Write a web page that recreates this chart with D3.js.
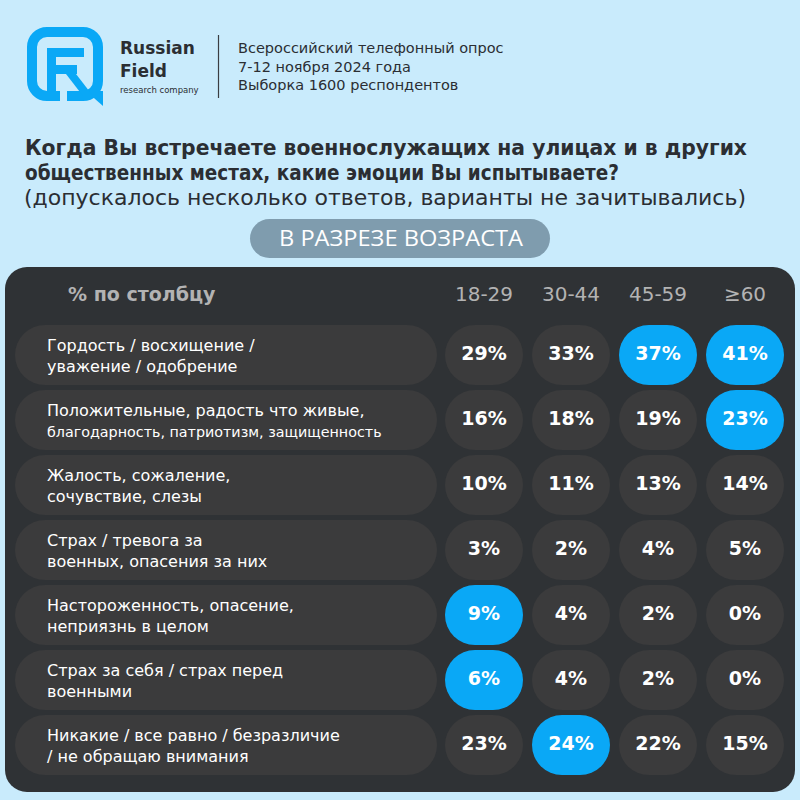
<!DOCTYPE html>
<html><head><meta charset="utf-8">
<script src="https://cdn.jsdelivr.net/npm/d3@7"></script>
<style>
html,body{margin:0;padding:0;background:#c9ebfc;}
svg{display:block;}
</style></head>
<body>
<svg id="chart" width="800" height="800"></svg>
<script>
// ---------- DATA ----------
const categories = [
  ["Гордость / восхищение /", "уважение / одобрение"],
  ["Положительные, радость что живые,", "благодарность, патриотизм, защищенность"],
  ["Жалость, сожаление,", "сочувствие, слезы"],
  ["Страх / тревога за", "военных, опасения за них"],
  ["Настороженность, опасение,", "неприязнь в целом"],
  ["Страх за себя / страх перед", "военными"],
  ["Никакие / все равно / безразличие", "/ не обращаю внимания"]
];
const ageGroups = ["18-29", "30-44", "45-59", "≥60"];
const values18_29 = [29, 16, 10, 3, 9, 6, 23];
const values30_44 = [33, 18, 11, 2, 4, 4, 24];
const values45_59 = [37, 19, 13, 4, 2, 2, 22];
const values60plus = [41, 23, 14, 5, 0, 0, 15];
// highlighted (blue) cells per column
const highlight18_29 = [0, 0, 0, 0, 1, 1, 0];
const highlight30_44 = [0, 0, 0, 0, 0, 0, 1];
const highlight45_59 = [1, 0, 0, 0, 0, 0, 0];
const highlight60plus = [1, 1, 0, 0, 0, 0, 0];
const headerLines = ["Всероссийский телефонный опрос", "7-12 ноября 2024 года", "Выборка 1600 респондентов"];
const titleLines = ["Когда Вы встречаете военнослужащих на улицах и в других", "общественных местах, какие эмоции Вы испытываете?"];
const subtitle = "(допускалось несколько ответов, варианты не зачитывались)";
const badge = "В РАЗРЕЗЕ ВОЗРАСТА";
const columnHeader = "% по столбцу";

const columns = [values18_29, values30_44, values45_59, values60plus];
const highlights = [highlight18_29, highlight30_44, highlight45_59, highlight60plus];

// ---------- DRAW ----------
const svg = d3.select("#chart");
const BG = "#c9ebfc", BLUE = "#0aa8f6", DARK = "#2b2e33", CELL = "#3b3b3c";

svg.append("rect").attr("width", 800).attr("height", 800).attr("fill", BG);

// logo icon
const logo = svg.append("g");
logo.append("rect").attr("x", 32).attr("y", 32).attr("width", 66).attr("height", 64)
  .attr("rx", 15).attr("fill", "none").attr("stroke", BLUE).attr("stroke-width", 10);
logo.append("path").attr("d", "M86 91 L103 91 L103 106 Z").attr("fill", BLUE);
logo.append("rect").attr("x", 47).attr("y", 48).attr("width", 37).attr("height", 9).attr("fill", BLUE);
logo.append("rect").attr("x", 47).attr("y", 48).attr("width", 9).attr("height", 45).attr("fill", BLUE);
logo.append("rect").attr("x", 47).attr("y", 65).attr("width", 30).attr("height", 9).attr("fill", BLUE);
logo.append("path").attr("d", "M66 74 L76 74 L93 96 L83 96 Z").attr("fill", BLUE);
logo.append("rect").attr("x", 60).attr("y", 90).attr("width", 7).attr("height", 12).attr("fill", BG);

svg.append("text").attr("x", 120).attr("y", 54).text("Russian")
  .attr("font-family", "DejaVu Sans").attr("font-weight", "bold").attr("font-size", 17).attr("fill", DARK);
svg.append("text").attr("x", 120).attr("y", 77).text("Field")
  .attr("font-family", "DejaVu Sans").attr("font-weight", "bold").attr("font-size", 17).attr("fill", DARK);
svg.append("text").attr("x", 120).attr("y", 93).text("research company")
  .attr("font-family", "DejaVu Sans").attr("font-size", 8.5).attr("fill", DARK);
svg.append("line").attr("x1", 218.5).attr("x2", 218.5).attr("y1", 35).attr("y2", 98)
  .attr("stroke", "#3a3d42").attr("stroke-width", 1.2);

svg.selectAll("text.hdr").data(headerLines).join("text").attr("class", "hdr")
  .attr("x", 238).attr("y", (d, i) => 53 + i * 18.5).text(d => d)
  .attr("font-family", "DejaVu Sans").attr("font-size", 14.5).attr("fill", DARK);

// title
const titleWidths = [722, 594];
svg.selectAll("text.title").data(titleLines).join("text").attr("class", "title")
  .attr("x", 25).attr("y", (d, i) => 155 + i * 25).text(d => d)
  .attr("textLength", (d, i) => titleWidths[i]).attr("lengthAdjust", "spacingAndGlyphs")
  .attr("font-family", "DejaVu Sans").attr("font-weight", "bold").attr("font-size", 21).attr("fill", DARK);
svg.append("text").attr("x", 24).attr("y", 205).text(subtitle)
  .attr("textLength", 722).attr("lengthAdjust", "spacingAndGlyphs")
  .attr("font-family", "DejaVu Sans").attr("font-size", 21).attr("fill", DARK);

// badge
svg.append("rect").attr("x", 250).attr("y", 219).attr("width", 300).attr("height", 39).attr("rx", 19.5).attr("fill", "#7f9cae");
svg.append("text").attr("x", 279).attr("y", 246).text(badge)
  .attr("textLength", 244).attr("lengthAdjust", "spacingAndGlyphs")
  .attr("font-family", "Open Sans").attr("font-size", 22).attr("fill", "#ffffff");

// panel
svg.append("rect").attr("x", 5).attr("y", 267).attr("width", 790).attr("height", 525).attr("rx", 22).attr("fill", "#2f3235");

const y = d3.scaleBand().domain(d3.range(categories.length)).range([325, 775]).paddingInner(5 / 65);
const x = d3.scaleBand().domain(ageGroups).range([445, 784]).paddingInner(9 / 87);

svg.append("text").attr("x", 68).attr("y", 301).text(columnHeader)
  .attr("font-family", "DejaVu Sans").attr("font-weight", "bold").attr("font-size", 19).attr("fill", "#b3b3b3");
svg.selectAll("text.col").data(ageGroups).join("text").attr("class", "col")
  .attr("x", d => x(d) + x.bandwidth() / 2).attr("y", 301).attr("text-anchor", "middle").text(d => d)
  .attr("font-family", "DejaVu Sans").attr("font-size", 20).attr("fill", "#b3b3b3");

// label pills
const rows = svg.selectAll("g.row").data(categories).join("g").attr("class", "row");
rows.append("rect").attr("x", 15).attr("y", (d, i) => y(i)).attr("width", 422).attr("height", y.bandwidth())
  .attr("rx", 30).attr("fill", CELL);
rows.each(function (d, i) {
  const g = d3.select(this);
  const cy = y(i) + y.bandwidth() / 2;
  g.append("text").attr("x", 47).attr("y", cy - 4).text(d[0])
    .attr("font-family", "DejaVu Sans").attr("font-size", 16).attr("fill", "#ffffff");
  g.append("text").attr("x", 47).attr("y", cy + 16.5).text(d[1])
    .attr("font-family", "DejaVu Sans").attr("font-size", i === 1 ? 14.3 : 16).attr("fill", "#ffffff");
});

// cells
const cells = [];
columns.forEach((col, c) => col.forEach((v, r) => cells.push({ age: ageGroups[c], row: r, v, hl: highlights[c][r] })));
svg.selectAll("rect.cell").data(cells).join("rect").attr("class", "cell")
  .attr("x", d => x(d.age)).attr("y", d => y(d.row)).attr("width", x.bandwidth()).attr("height", y.bandwidth())
  .attr("rx", 30).attr("fill", d => d.hl ? BLUE : CELL);
svg.selectAll("text.val").data(cells).join("text").attr("class", "val")
  .attr("x", d => x(d.age) + x.bandwidth() / 2).attr("y", d => y(d.row) + y.bandwidth() / 2 + 5)
  .attr("text-anchor", "middle").text(d => d.v + "%")
  .attr("font-family", "DejaVu Sans").attr("font-weight", "bold").attr("font-size", 19).attr("fill", "#ffffff");
</script>
</body></html>
